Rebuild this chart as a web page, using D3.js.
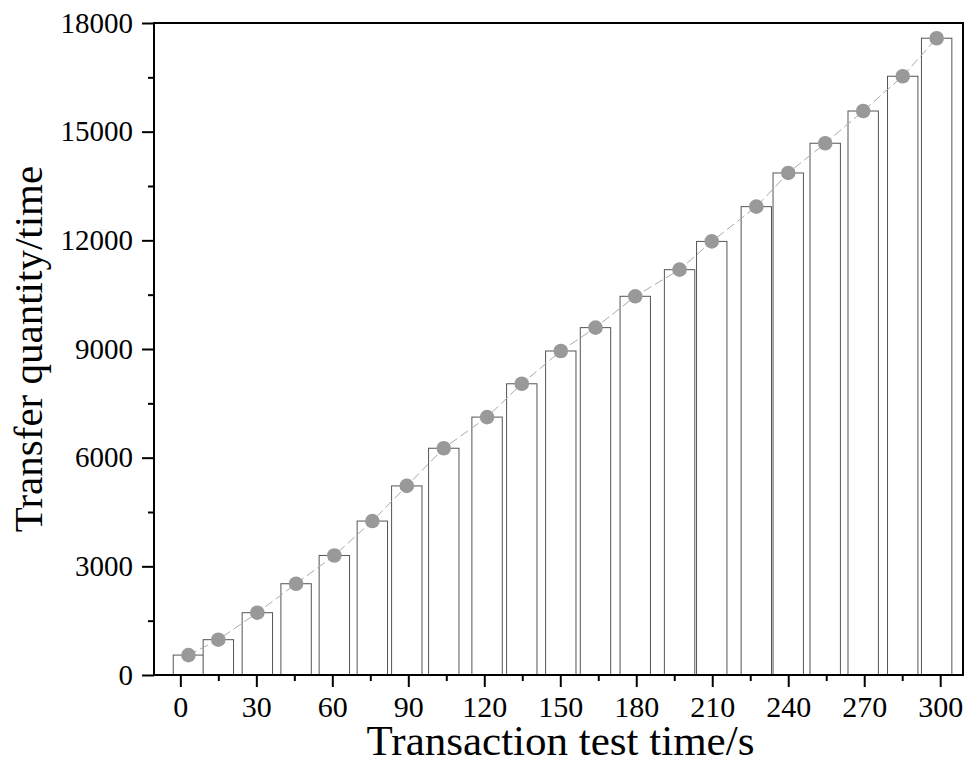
<!DOCTYPE html>
<html lang="en">
<head>
<meta charset="UTF-8">
<title>Transfer quantity</title>
<script src="https://cdn.jsdelivr.net/npm/d3@7"></script>
<style>
  body { margin: 0; background: #fff; }
  text { font-family: "Liberation Serif", "Times New Roman", serif; }
</style>
</head>
<body>
<script>
// test time (s) of each sample
var times = [3.2, 15.0, 30.4, 45.7, 60.8, 75.8, 89.4, 104.0, 121.1, 134.8, 150.2,
             163.9, 179.6, 197.1, 209.8, 227.4, 240.0, 254.6, 269.6, 285.2, 298.6];
// transfer quantity at each sample
var transfers = [550, 975, 1720, 2520, 3300, 4250, 5220, 6260, 7120, 8040, 8945,
                 9590, 10455, 11190, 11970, 12930, 13860, 14680, 15570, 16530, 17580];
var xTicks = [0, 30, 60, 90, 120, 150, 180, 210, 240, 270, 300];
var yTicks = [0, 3000, 6000, 9000, 12000, 15000, 18000];
var barSpan = 12; // seconds covered by one bar

var width = 966, height = 774;
var mLeft = 154, mRight = 963, mTop = 23, mBottom = 675;

var data = times.map(function (t, i) { return {t: t, v: transfers[i]}; });

var svg = d3.select('body').append('svg')
    .attr('width', width)
    .attr('height', height);

var x = d3.scaleLinear().domain([-10.4, 309]).range([mLeft, mRight]);
var y = d3.scaleLinear().domain([0, 18000]).range([mBottom, mTop]);

// bars
svg.append('g').selectAll('rect')
    .data(data)
    .enter()
    .append('rect')
    .attr('x', function (d) { return x(d.t - barSpan / 2); })
    .attr('width', function (d) { return x(d.t + barSpan / 2) - x(d.t - barSpan / 2); })
    .attr('y', function (d) { return y(d.v); })
    .attr('height', function (d) { return y(0) - y(d.v); })
    .attr('fill', '#fff')
    .attr('stroke', '#555')
    .attr('stroke-width', 1);

// dashed connecting line
var line = d3.line()
    .x(function (d) { return x(d.t); })
    .y(function (d) { return y(d.v); });
svg.append('path')
    .datum(data)
    .attr('d', line)
    .attr('fill', 'none')
    .attr('stroke', '#aaa')
    .attr('stroke-width', 1)
    .attr('stroke-dasharray', '9,4');

// points
svg.append('g').selectAll('circle')
    .data(data)
    .enter()
    .append('circle')
    .attr('cx', function (d) { return x(d.t); })
    .attr('cy', function (d) { return y(d.v); })
    .attr('r', 7.3)
    .attr('fill', '#999');

// frame
svg.append('rect')
    .attr('x', mLeft).attr('y', mTop)
    .attr('width', mRight - mLeft).attr('height', mBottom - mTop)
    .attr('fill', 'none')
    .attr('stroke', '#000')
    .attr('stroke-width', 2);

// minor ticks
var xMinor = xTicks.slice(0, -1).map(function (t) { return t + 15; });
var yMinor = yTicks.slice(0, -1).map(function (t) { return t + 1500; });

svg.append('g')
    .attr('transform', 'translate(0,' + mBottom + ')')
    .call(d3.axisBottom(x).tickValues(xMinor).tickSize(6).tickFormat(''))
    .call(function (g) { g.select('.domain').remove(); g.selectAll('line').attr('stroke-width', 2); });
svg.append('g')
    .attr('transform', 'translate(' + mLeft + ',0)')
    .call(d3.axisLeft(y).tickValues(yMinor).tickSize(6).tickFormat(''))
    .call(function (g) { g.select('.domain').remove(); g.selectAll('line').attr('stroke-width', 2); });

// major ticks
svg.append('g')
    .attr('transform', 'translate(0,' + mBottom + ')')
    .call(d3.axisBottom(x).tickValues(xTicks).tickSize(12).tickPadding(9).tickFormat(d3.format('d')))
    .call(function (g) {
        g.select('.domain').remove();
        g.selectAll('line').attr('stroke-width', 2);
        g.selectAll('text').attr('font-size', 30).attr('fill', '#000');
    });
svg.append('g')
    .attr('transform', 'translate(' + mLeft + ',0)')
    .call(d3.axisLeft(y).tickValues(yTicks).tickSize(12).tickPadding(9).tickFormat(d3.format('d')))
    .call(function (g) {
        g.select('.domain').remove();
        g.selectAll('line').attr('stroke-width', 2);
        g.selectAll('text').attr('font-size', 29).attr('fill', '#000');
    });

// axis titles
svg.append('text')
    .attr('x', (mLeft + mRight) / 2 + 2)
    .attr('y', 755)
    .attr('text-anchor', 'middle')
    .attr('font-size', 43)
    .text('Transaction test time/s');

svg.append('text')
    .attr('transform', 'translate(42,' + (mTop + mBottom) / 2 + ') rotate(-90)')
    .attr('text-anchor', 'middle')
    .attr('font-size', 41)
    .text('Transfer quantity/time');
</script>
</body>
</html>
